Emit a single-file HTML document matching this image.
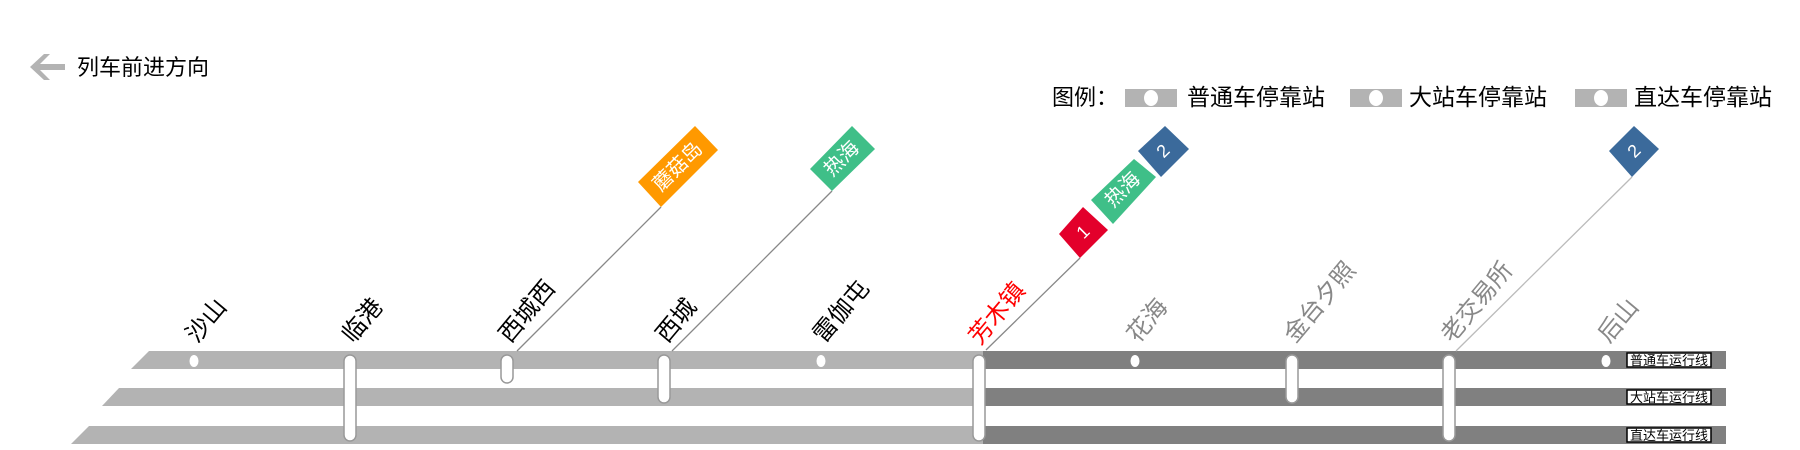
<!DOCTYPE html>
<html><head><meta charset="utf-8"><style>
html,body{margin:0;padding:0;background:#fff;}
svg{display:block;font-family:"Liberation Sans","Noto Sans CJK SC",sans-serif;}
</style></head><body>
<svg width="1800" height="450" viewBox="0 0 1800 450" xmlns="http://www.w3.org/2000/svg">
<path d="M30 67 L44 54 L50 54 L40 64 L65 64 L65 70 L40 70 L50 80 L44 80 Z" fill="#b3b3b3"/>
<text x="77" y="75" font-size="22" fill="#000">列车前进方向</text>
<text x="1052" y="105" font-size="22" fill="#000">图例：</text>
<rect x="1125" y="89" width="52" height="18" fill="#b3b3b3"/><ellipse cx="1151" cy="98" rx="7" ry="8" fill="#fff"/>
<text x="1187" y="105" font-size="23" fill="#000">普通车停靠站</text>
<rect x="1350" y="89" width="52" height="18" fill="#b3b3b3"/><ellipse cx="1376" cy="98" rx="7" ry="8" fill="#fff"/>
<text x="1409" y="105" font-size="23" fill="#000">大站车停靠站</text>
<rect x="1575" y="89" width="52" height="18" fill="#b3b3b3"/><ellipse cx="1601" cy="98" rx="7" ry="8" fill="#fff"/>
<text x="1634" y="105" font-size="23" fill="#000">直达车停靠站</text>

<polygon points="149,351 983,351 983,369 131,369" fill="#b3b3b3"/>
<polygon points="119,388 983,388 983,406 102,406" fill="#b3b3b3"/>
<polygon points="89,426 983,426 983,444 71,444" fill="#b3b3b3"/>
<rect x="983" y="351" width="743" height="18" fill="#808080"/>
<rect x="983" y="388" width="743" height="18" fill="#808080"/>
<rect x="983" y="426" width="743" height="18" fill="#808080"/>

<line x1="517" y1="351" x2="661" y2="207" stroke="#888" stroke-width="1.3"/>
<line x1="672" y1="351" x2="832" y2="191" stroke="#888" stroke-width="1.3"/>
<line x1="986" y1="350" x2="1080" y2="258" stroke="#888" stroke-width="1.3"/>
<line x1="1456" y1="351" x2="1632" y2="177" stroke="#bbb" stroke-width="1.3"/>

<polygon points="638,182 695,126 718,150 661,207" fill="#FF9900"/>
<text transform="translate(678,167) rotate(-45)" font-size="20" fill="#fff" text-anchor="middle" dominant-baseline="central">蘑菇岛</text>
<polygon points="810,169 852,126 875,149 832,191" fill="#3FBF88"/>
<text transform="translate(842,159) rotate(-45)" font-size="20" fill="#fff" text-anchor="middle" dominant-baseline="central">热海</text>
<polygon points="1059,234 1083,207 1108,230 1080,258" fill="#E3002B"/>
<text transform="translate(1083,232) rotate(-45)" font-size="18" fill="#fff" text-anchor="middle" dominant-baseline="central">1</text>
<polygon points="1091,200 1134,159 1156,177 1113,224" fill="#3FBF88"/>
<text transform="translate(1123,190) rotate(-45)" font-size="20" fill="#fff" text-anchor="middle" dominant-baseline="central">热海</text>
<polygon points="1138,151 1165,126 1189,149 1161,177" fill="#3B6A9B"/>
<text transform="translate(1163,151) rotate(-45)" font-size="18" fill="#fff" text-anchor="middle" dominant-baseline="central">2</text>
<polygon points="1609,151 1634,126 1659,149 1632,177" fill="#3B6A9B"/>
<text transform="translate(1634,151) rotate(-45)" font-size="18" fill="#fff" text-anchor="middle" dominant-baseline="central">2</text>

<g fill="#fff">
<ellipse cx="194" cy="361" rx="4.5" ry="6"/>
<ellipse cx="821" cy="361" rx="4.5" ry="6"/>
<ellipse cx="1135" cy="361" rx="4.5" ry="6"/>
<ellipse cx="1606" cy="361" rx="4.5" ry="6"/>
</g>
<g fill="#fff" stroke="#999" stroke-width="1.5">
<rect x="344" y="355" width="12" height="86" rx="6"/>
<rect x="501" y="355" width="12" height="28" rx="6"/>
<rect x="658" y="355" width="12" height="48" rx="6"/>
<rect x="973" y="355" width="12" height="86" rx="6"/>
<rect x="1286" y="355" width="12" height="48" rx="6"/>
<rect x="1443" y="355" width="12" height="86" rx="6"/>
</g>

<g font-size="24">
<text transform="translate(197,344) rotate(-50)" fill="#000">沙山</text>
<text transform="translate(353,344) rotate(-50)" fill="#000">临港</text>
<text transform="translate(510,344) rotate(-50)" fill="#000">西城西</text>
<text transform="translate(667,344) rotate(-50)" fill="#000">西城</text>
<text transform="translate(824,344) rotate(-50)" fill="#000">雷伽屯</text>
<text transform="translate(980,346) rotate(-50)" fill="#ff0000">芳木镇</text>
<text transform="translate(1138,344) rotate(-50)" fill="#888">花海</text>
<text transform="translate(1295,344) rotate(-50)" fill="#888">金台夕照</text>
<text transform="translate(1452,344) rotate(-50)" fill="#888">老交易所</text>
<text transform="translate(1609,344) rotate(-50)" fill="#888">后山</text>
</g>

<g font-size="13" fill="#000">
<rect x="1627" y="353" width="84" height="14" fill="#fff" stroke="#000" stroke-width="1.5"/>
<text x="1669" y="365" text-anchor="middle">普通车运行线</text>
<rect x="1627" y="390" width="84" height="14" fill="#fff" stroke="#000" stroke-width="1.5"/>
<text x="1669" y="402" text-anchor="middle">大站车运行线</text>
<rect x="1627" y="428" width="84" height="14" fill="#fff" stroke="#000" stroke-width="1.5"/>
<text x="1669" y="440" text-anchor="middle">直达车运行线</text>
</g>
</svg>
</body></html>
